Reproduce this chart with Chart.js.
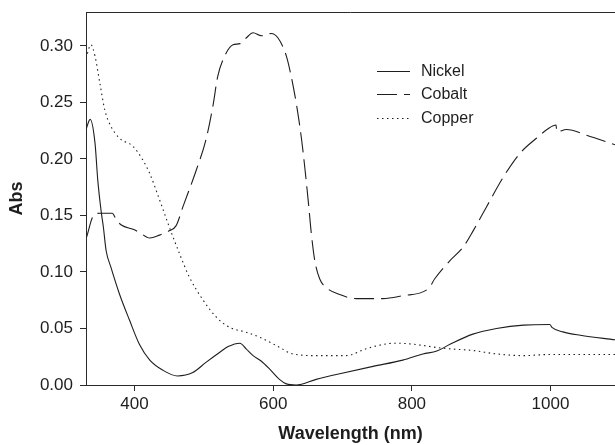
<!DOCTYPE html>
<html>
<head>
<meta charset="utf-8">
<script src="https://cdn.jsdelivr.net/npm/chart.js@4/dist/chart.umd.min.js"></script>
<style>
  html, body { margin: 0; padding: 0; background: #fff; }
  #wrap { width: 615px; height: 445px; }
</style>
</head>
<body>
<div id="wrap"><canvas id="absChart" width="615" height="445"></canvas></div>
<script>
// ── data ─────────────────────────────────────────────────────────────────────

const seriesLabels = ['Nickel', 'Cobalt', 'Copper'];

const nickelWl = [330, 336, 343, 347, 352, 355, 359, 366, 378, 393, 407, 422, 441, 462, 484, 503, 523, 535, 552, 561, 571, 583, 595, 609, 619, 633, 662, 696, 744, 787, 816, 836, 855, 888, 922, 961, 999, 1002, 1018, 1043, 1093];
const nickelAbs = [0.226, 0.235, 0.214, 0.181, 0.153, 0.140, 0.119, 0.104, 0.081, 0.057, 0.036, 0.022, 0.013, 0.008, 0.011, 0.020, 0.029, 0.034, 0.037, 0.032, 0.026, 0.021, 0.014, 0.005, 0.001, 0.000, 0.005, 0.010, 0.0165, 0.022, 0.0275, 0.030, 0.036, 0.045, 0.050, 0.053, 0.0535, 0.051, 0.047, 0.044, 0.040];

const cobaltWl = [331, 340, 350, 368, 373, 381, 398, 407, 422, 436, 450, 460, 470, 489, 503, 513, 520, 530, 542, 552, 561, 571, 583, 597, 607, 619, 626, 634, 641, 646, 651, 655, 660, 667, 677, 696, 720, 758, 787, 824, 833, 855, 874, 889, 908, 932, 956, 980, 997, 1008, 1009, 1023, 1052, 1093];
const cobaltAbs = [0.131, 0.149, 0.152, 0.152, 0.147, 0.1415, 0.1377, 0.135, 0.130, 0.1326, 0.1364, 0.141, 0.158, 0.190, 0.217, 0.2466, 0.273, 0.291, 0.301, 0.302, 0.307, 0.3117, 0.309, 0.311, 0.307, 0.291, 0.273, 0.2465, 0.217, 0.190, 0.160, 0.134, 0.110, 0.094, 0.086, 0.080, 0.0764, 0.0764, 0.079, 0.0853, 0.094, 0.110, 0.122, 0.137, 0.158, 0.184, 0.205, 0.2185, 0.227, 0.230, 0.224, 0.226, 0.221, 0.2125];

const copperWl = [330, 337, 343, 350, 357, 366, 378, 398, 412, 422, 436, 450, 465, 479, 499, 518, 537, 561, 585, 609, 628, 662, 705, 734, 758, 777, 797, 816, 838, 855, 888, 922, 961, 999, 1093];
const copperAbs = [0.289, 0.301, 0.291, 0.267, 0.2436, 0.2288, 0.2185, 0.211, 0.199, 0.187, 0.164, 0.140, 0.116, 0.0956, 0.075, 0.060, 0.051, 0.0467, 0.041, 0.0334, 0.0275, 0.026, 0.026, 0.032, 0.0358, 0.037, 0.0364, 0.035, 0.033, 0.032, 0.0305, 0.0275, 0.026, 0.027, 0.027];

const xTicks = [400, 600, 800, 1000];
const yTicks = [0, 0.05, 0.10, 0.15, 0.20, 0.25, 0.30];

// ── helpers ──────────────────────────────────────────────────────────────────

const INK = '#1e1e1e';
const AXIS = '#2a2a2a';
const FONT = '"Liberation Sans", Arial, sans-serif';

function toPoints(xs, ys) {
  return xs.map((x, i) => ({ x, y: ys[i] }));
}

function lineSet(label, xs, ys, dash) {
  return {
    label,
    data: toPoints(xs, ys),
    borderColor: INK,
    borderWidth: 1.1,
    borderDash: dash,
    pointRadius: 0,
    fill: false,
    cubicInterpolationMode: 'monotone',
  };
}

// top frame line + legend in the upper right of the plot
const framePlugin = {
  id: 'frame',
  afterDraw(chart) {
    const { ctx, chartArea: a } = chart;
    ctx.save();
    ctx.strokeStyle = AXIS;
    ctx.lineWidth = 1;
    ctx.beginPath();
    ctx.moveTo(a.left, Math.round(a.top) + 0.5);
    ctx.lineTo(a.right, Math.round(a.top) + 0.5);
    ctx.stroke();

    const x0 = a.left + 291;
    const y0 = a.top + 59;
    chart.data.datasets.forEach((ds, i) => {
      const y = Math.round(y0 + i * 23.3) + 0.5;
      ctx.strokeStyle = ds.borderColor;
      ctx.lineWidth = 1;
      ctx.setLineDash(ds.borderDash || []);
      ctx.beginPath();
      ctx.moveTo(x0, y);
      ctx.lineTo(x0 + 33, y);
      ctx.stroke();
      ctx.setLineDash([]);
      ctx.fillStyle = INK;
      ctx.font = '16px ' + FONT;
      ctx.textBaseline = 'middle';
      ctx.fillText(ds.label, x0 + 44, y);
    });
    ctx.restore();
  },
};

// ── chart ────────────────────────────────────────────────────────────────────

new Chart(document.getElementById('absChart'), {
  type: 'line',
  data: {
    datasets: [
      lineSet(seriesLabels[0], nickelWl, nickelAbs, []),
      lineSet(seriesLabels[1], cobaltWl, cobaltAbs, [20, 7]),
      lineSet(seriesLabels[2], copperWl, copperAbs, [1.5, 3.5]),
    ],
  },
  options: {
    responsive: false,
    animation: false,
    layout: { padding: { top: 12, right: 0, left: 0, bottom: 0 } },
    plugins: {
      legend: { display: false },
      tooltip: { enabled: false },
    },
    scales: {
      x: {
        type: 'linear',
        min: 330,
        max: 1093,
        afterBuildTicks: (s) => { s.ticks = xTicks.map((v) => ({ value: v })); },
        afterFit: (s) => { s.height = 60; s.paddingLeft = 0; s.paddingRight = 0; },
        grid: { drawOnChartArea: false, drawTicks: true, tickLength: 6, color: AXIS },
        border: { display: true, color: AXIS, width: 1 },
        ticks: {
          color: INK,
          font: { family: FONT, size: 17 },
          padding: 3,
          maxRotation: 0,
          callback: (v) => String(v),
        },
        title: {
          display: true,
          text: 'Wavelength (nm)',
          color: INK,
          font: { family: FONT, size: 18, weight: 'bold' },
          padding: { top: 0, bottom: 0 },
        },
      },
      y: {
        min: 0,
        max: 0.33,
        afterBuildTicks: (s) => { s.ticks = yTicks.map((v) => ({ value: v })); },
        afterFit: (s) => { s.width = 86; s.paddingTop = 0; s.paddingBottom = 0; },
        grid: { drawOnChartArea: false, drawTicks: true, tickLength: 6, color: AXIS },
        border: { display: true, color: AXIS, width: 1 },
        ticks: {
          color: INK,
          font: { family: FONT, size: 17 },
          padding: 7,
          callback: (v) => Number(v).toFixed(2),
        },
        title: {
          display: true,
          text: 'Abs',
          color: INK,
          font: { family: FONT, size: 18, weight: 'bold' },
          padding: { top: 6, bottom: 0 },
        },
      },
    },
  },
  plugins: [framePlugin],
});
</script>
</body>
</html>
